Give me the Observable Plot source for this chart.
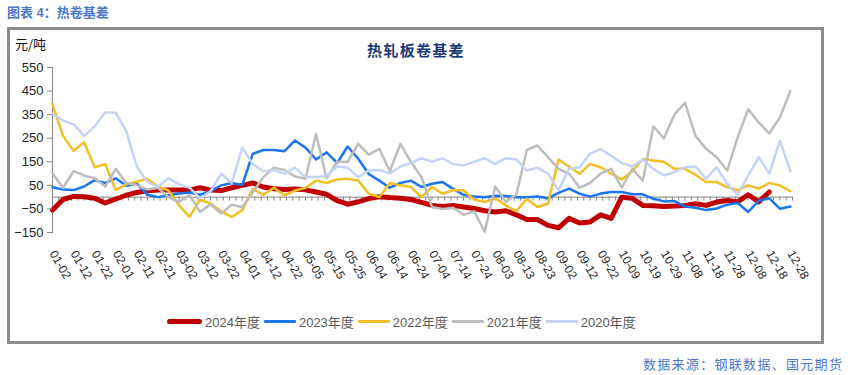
<!DOCTYPE html>
<html><head><meta charset="utf-8">
<script src="https://cdn.jsdelivr.net/npm/d3@7"></script>
<script src="https://cdn.jsdelivr.net/npm/@observablehq/plot@0.6"></script>
<style>
body{margin:0;background:#fff;font-family:"Liberation Sans",Arial,"Noto Sans CJK SC",sans-serif;}
#page{position:relative;width:855px;height:375px;overflow:hidden;background:#fff;}
#title{position:absolute;left:7px;top:6px;font-size:13px;line-height:14px;font-weight:bold;color:#4a78cc;font-family:"Liberation Sans","Noto Sans CJK SC",sans-serif;}
#frame{position:absolute;left:7px;top:27px;width:811px;height:311px;border:3px solid #8c8c8c;}
#unit{position:absolute;left:5px;top:7px;font-size:13px;line-height:14px;color:#111;font-family:"Noto Sans CJK SC",sans-serif;}
#ctitle{position:absolute;left:345px;width:122px;top:12px;text-align:center;font-size:15px;line-height:16px;font-weight:bold;color:#1c3a78;letter-spacing:1.3px;font-family:"Noto Sans CJK SC",sans-serif;}
#legend{position:absolute;left:157px;top:283px;height:16px;display:flex;align-items:center;font-size:13px;color:#595959;font-family:"Liberation Sans","Noto Sans CJK SC",sans-serif;}
#legend .it{display:flex;align-items:center;margin-right:4px;}
#legend .sw{display:inline-block;width:32px;margin-right:3px;}
#caption{position:absolute;left:643px;top:357px;font-size:13px;line-height:13px;letter-spacing:1.3px;color:#4a78cc;font-family:"Noto Sans CJK SC",sans-serif;}
#chart{position:absolute;left:0;top:0;}
</style></head>
<body>
<div id="page">
  <div id="title">图表 4：热卷基差</div>
  <div id="frame">
    <div id="chart"></div>
    <div id="unit">元/吨</div>
    <div id="ctitle">热轧板卷基差</div>
    <div id="legend"></div>
  </div>
  <div id="caption">数据来源：钢联数据、国元期货</div>
</div>
<script>
// ---- data (one value every 5 categories) ----
const xLabels = ["01-02","01-12","01-22","02-01","02-11","02-21","03-02","03-12","03-22","04-01","04-12","04-22","05-05","05-15","05-25","06-04","06-14","06-24","07-04","07-14","07-24","08-03","08-13","08-23","09-02","09-12","09-22","10-09","10-19","10-29","11-08","11-18","11-28","12-08","12-18","12-28"];
const yTicks = [-150,-50,50,150,250,350,450,550];
const step = 5;
const s2024 = [-55,-10,3,2,-5,-25,-8,8,20,27,30,30,30,30,40,30,28,40,50,60,43,36,32,35,31,22,12,-15,-30,-20,-6,2,-2,-5,-10,-22,-35,-40,-35,-42,-48,-58,-63,-58,-75,-95,-95,-120,-130,-90,-110,-105,-75,-90,0,-5,-35,-37,-40,-38,-35,-28,-35,-21,-14,-20,10,-20,22];
const s2023 = [42,32,30,45,72,60,80,48,57,10,0,8,15,20,10,25,50,60,52,184,200,200,195,240,210,160,190,145,215,163,98,70,40,60,70,43,57,64,35,10,3,0,6,5,0,0,3,-5,18,36,15,2,15,22,22,12,12,-7,-18,-16,-40,-45,-55,-48,-32,-25,-63,-15,-5,-49,-40];
const s2022 = [395,260,197,233,127,140,30,55,65,78,45,28,-35,-84,-10,-28,-60,-84,-55,35,10,40,8,28,40,70,60,75,78,71,15,0,60,50,43,0,43,15,29,29,-10,-21,-5,-35,-60,-7,-42,-28,160,130,99,141,127,100,75,110,162,155,150,120,120,95,64,64,43,29,50,36,60,50,25];
const s2021 = [100,40,110,92,80,45,120,60,50,32,40,0,-20,10,-63,-30,-70,-32,-42,20,85,125,115,88,78,268,80,150,150,226,180,205,110,226,150,85,-42,-50,-45,-75,-60,-147,45,-20,10,200,219,170,120,100,40,60,100,120,40,120,70,300,250,350,400,260,205,169,113,254,373,317,270,338,451];
const s2020 = [352,324,310,260,300,360,358,280,130,64,45,80,55,40,-5,25,100,60,210,140,110,115,100,125,85,85,90,130,125,85,113,115,100,130,145,165,150,165,140,135,150,165,141,165,160,113,125,100,30,120,127,185,204,175,145,130,160,120,92,106,127,130,78,127,57,10,92,169,100,240,110];

const names = ["2024年度","2023年度","2022年度","2021年度","2020年度"];
const colors = ["#C00000","#1A75EE","#F2BF24","#BDBDBD","#C5D4F6"];
const widths = [5,2.5,2.5,2.5,2.5];
const series = [s2024, s2023, s2022, s2021, s2020];

const rows = vals => vals.map((v, k) => ({i: k * step, v}));
const labelIdx = xLabels.map((_, k) => k * 10);
const tickIdx = d3.range(0, 352, 3);

const plot = Plot.plot({
  width: 811,
  height: 311,
  marginLeft: 42,
  marginRight: 29,
  marginTop: 37,
  marginBottom: 109,
  style: {fontFamily: "Liberation Sans, Arial, sans-serif", background: "transparent", overflow: "visible", color: "#222"},
  x: {domain: [0, 351], label: null},
  y: {domain: [-150, 550], label: null},
  marks: [
    Plot.frame({anchor: "left", stroke: "#868686"}),
    Plot.ruleY([0], {stroke: "#868686"}),
    Plot.ruleX(tickIdx, {x: d => d, y1: 0, y2: 0, insetBottom: -4, stroke: "#868686"}),
    ...series.map((vals, s) => Plot.line(rows(vals), {x: "i", y: "v", stroke: colors[s], strokeWidth: widths[s], strokeLinejoin: "round", strokeLinecap: "round"})),
    Plot.axisY({ticks: yTicks, label: null, tickSize: 5, tickPadding: 4, stroke: "#868686", fill: "#222", fontSize: 13}),
    Plot.axisX({ticks: labelIdx, label: null, tickFormat: d => xLabels[Math.round(d / 10)], tickSize: 0, tickPadding: 19, tickRotate: 60, fill: "#222", fontSize: 12})
  ]
});
document.getElementById("chart").appendChild(plot);

const lg = document.getElementById("legend");
names.forEach((n, s) => {
  const it = document.createElement("span");
  it.className = "it";
  const sw = document.createElement("span");
  sw.className = "sw";
  sw.style.background = colors[s];
  sw.style.height = (s === 0 ? 5 : 3) + "px";
  sw.style.borderRadius = (s === 0 ? 2.5 : 1) + "px";
  if (s === 0) sw.style.width = "35px";
  const t = document.createElement("span");
  t.textContent = n;
  it.appendChild(sw); it.appendChild(t);
  lg.appendChild(it);
});
</script>
</body></html>
